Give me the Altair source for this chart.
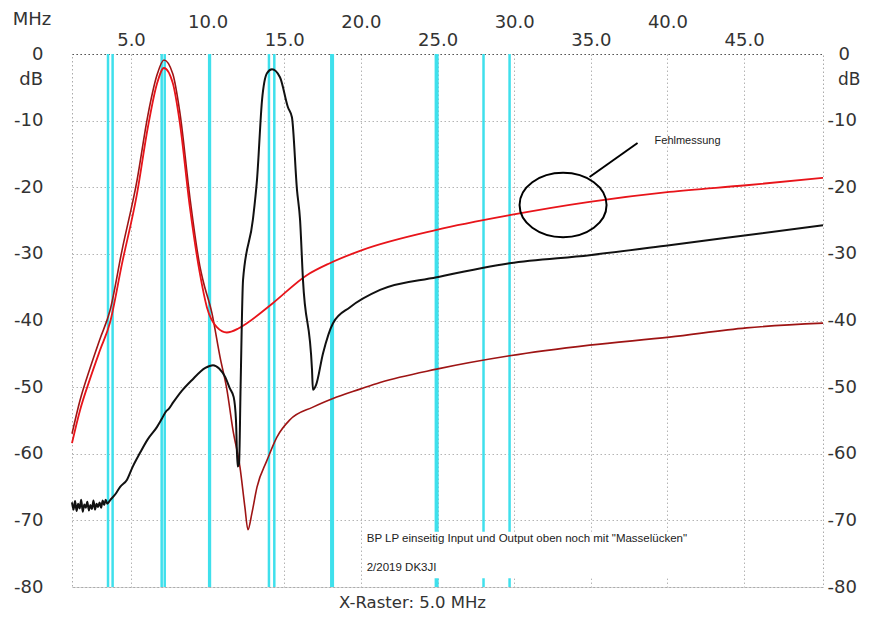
import altair as alt
import pandas as pd

# ---------------- data ----------------
# bright red trace (MHz, dB)
red_f = [1.15, 1.67, 2.32, 2.97, 3.63, 4.41, 5.39, 6.10, 6.69, 7.15, 7.73, 8.19, 8.84, 9.49, 9.95,
         10.60, 11.25, 12.00, 12.56, 14.25, 16.47, 17.97, 20.12, 24.94, 29.70, 34.92, 40.13, 45.15, 50.15]
red_db = [-58.4, -53.5, -48.8, -44.5, -40.3, -31.5, -21.0, -11.0, -4.5, -2.1, -4.4, -10.4, -23.0, -32.9, -38.0,
          -41.0, -41.8, -41.2, -40.4, -37.4, -33.2, -31.4, -29.4, -26.4, -24.2, -22.2, -20.7, -19.7, -18.6]

# dark red trace
dred_f = [1.15, 1.67, 2.32, 2.97, 3.63, 4.41, 5.39, 6.10, 6.69, 7.15, 7.73, 8.19, 8.84, 9.49, 9.70,
          10.28, 10.81, 11.26, 11.65, 12.11, 12.43, 12.63, 12.89, 13.22, 13.87, 14.52, 15.37, 16.87,
          18.18, 19.94, 21.25, 24.94, 29.70, 34.92, 40.13, 45.15, 50.15]
dred_db = [-57.0, -52.0, -47.2, -42.8, -38.5, -29.5, -19.0, -9.2, -3.2, -0.9, -3.0, -8.8, -21.5, -31.8, -34.0,
           -38.9, -45.5, -50.4, -56.4, -62.0, -68.0, -71.4, -68.9, -65.0, -61.0, -57.5, -54.9, -53.0,
           -51.7, -50.3, -49.3, -47.3, -45.3, -43.7, -42.5, -41.1, -40.4]

# black trace
black_f = [1.15, 1.25, 1.35, 1.45, 1.55, 1.65, 1.75, 1.85, 1.95, 2.05, 2.15, 2.25, 2.35, 2.45, 2.55, 2.65,
           2.75, 2.85, 2.95, 3.05, 3.15, 3.25, 3.35, 3.45,
           3.63, 4.00, 4.28, 4.74, 5.10, 5.58, 6.10, 6.69, 7.00, 7.30, 7.45, 7.75, 8.30, 8.95, 9.85,
           10.35, 10.75, 11.15, 11.45, 11.70, 11.85, 11.95, 12.05, 12.15, 12.31, 12.95, 13.22, 13.55,
           13.87, 14.20, 14.72, 15.24, 15.50, 15.83, 16.03, 16.22, 16.81, 16.87, 17.07, 17.53, 18.18,
           19.29, 21.25, 24.94, 29.70, 34.92, 40.13, 45.15, 50.15]
black_db = [-67.3, -68.4, -67.1, -68.6, -67.5, -68.2, -66.9, -68.7, -67.6, -68.1, -67.2, -68.5, -67.7, -68.3,
            -67.0, -68.4, -67.5, -68.0, -67.3, -68.1, -67.0, -67.7, -66.9, -67.5,
            -67.0, -66.0, -65.0, -63.9, -62.0, -59.9, -57.8, -56.0, -54.8, -53.6, -53.3, -52.3, -50.6,
            -49.0, -47.1, -46.7, -47.2, -48.5, -50.2, -51.5, -55.0, -61.9, -61.5, -50.0, -33.9, -24.9,
            -18.9, -6.9, -2.9, -2.3, -3.5, -8.0, -9.5, -20.4, -24.9, -33.9, -47.4, -50.4, -49.7, -44.9,
            -40.4, -38.0, -35.4, -33.5, -31.4, -30.2, -28.7, -27.2, -25.7]

# cyan amateur band edge markers (MHz)
band_edges = [3.5, 3.8, 7.0, 7.2, 10.1, 10.15, 14.0, 14.35, 18.068, 18.168, 24.89, 24.99, 28.0, 29.7]

x_ticks = [5, 10, 15, 20, 25, 30, 35, 40, 45]
y_ticks = [0, -10, -20, -30, -40, -50, -60, -70, -80]
x_domain = [1.15, 50.15]
y_domain = [-80, 0]

series_names = ["dunkelrot", "rot", "schwarz"]
series_colors = ["#9e1414", "#e8141a", "#111111"]

# annotations (data coordinates)
note_text = ['BP LP einseitig Input und Output oben noch mit "Masselücken"', "2/2019 DK3JI"]
note_f = [20.38, 20.38]
note_db = [-72.8, -77.15]
note_box_f = [20.25, 43.2]
note_box_db = [-71.7, -78.7]
ellipse_f = [33.19]
ellipse_db = [-22.66]
pointer_f = [34.92, 38.05]
pointer_db = [-18.46, -13.36]
fehl_f = [39.16]
fehl_db = [-13.06]

# ---------------- tables ----------------
curves = pd.concat([
    pd.DataFrame({"f": dred_f, "db": dred_db, "s": series_names[0], "o": 0}),
    pd.DataFrame({"f": red_f, "db": red_db, "s": series_names[1], "o": 1}),
    pd.DataFrame({"f": black_f, "db": black_db, "s": series_names[2], "o": 2}),
])
cyan_df = pd.DataFrame({"f": band_edges})
box_df = pd.DataFrame({"f": [note_box_f[0]], "f2": [note_box_f[1]],
                       "db": [note_box_db[0]], "db2": [note_box_db[1]]})
notes_df = pd.DataFrame({"f": note_f, "db": note_db, "t": note_text})
ell_df = pd.DataFrame({"f": ellipse_f, "db": ellipse_db})
ptr_df = pd.DataFrame({"f": [pointer_f[0]], "f2": [pointer_f[1]],
                       "db": [pointer_db[0]], "db2": [pointer_db[1]]})
fehl_df = pd.DataFrame({"f": fehl_f, "db": fehl_db, "t": ["Fehlmessung"]})
db_df = pd.DataFrame({"db": [-3.9], "t": ["dB"]})
mhz_df = pd.DataFrame({"t": ["MHz"]})

xs = alt.Scale(domain=x_domain, nice=False, zero=False)
ys = alt.Scale(domain=y_domain, nice=False, zero=False)

FONT = "DejaVu Sans"
LBL = "#333333"
GRID = "#b4b4b4"

top_axis = alt.Axis(orient="top", values=x_ticks, format=".1f", title=None, domain=False,
                    ticks=False, tickSize=0, labelFont=FONT, labelFontSize=18, labelColor=LBL,
                    labelBaseline="alphabetic",
                    labelPadding={"condition": {"test": "datum.value % 10 === 0", "value": 27}, "value": 9},
                    grid=True, gridColor=GRID, gridDash=[1.5, 2.5], gridWidth=1)

bottom_axis = alt.Axis(orient="bottom", labels=False, ticks=False, domain=False, grid=False,
                       title="X-Raster: 5.0 MHz", titleFont=FONT, titleFontSize=16.5,
                       titleFontWeight="normal", titleColor=LBL, titleX=340, titleY=15,
                       titleAlign="center", titleBaseline="middle")

left_axis = alt.Axis(orient="left", values=y_ticks, labelExpr="'' + datum.value", title=None,
                     domain=False, ticks=False, tickSize=0, labelFont=FONT, labelFontSize=18,
                     labelColor=LBL, labelAlign="right", labelBaseline="middle", labelPadding=29,
                     grid=True,
                     gridColor={"condition": {"test": "datum.value === 0", "value": "#555555"}, "value": GRID},
                     gridDash=[1.5, 2.5], gridWidth=1)

right_axis = alt.Axis(orient="right", values=y_ticks, labelExpr="'' + datum.value", title=None,
                      domain=False, ticks=False, tickSize=0, labelFont=FONT, labelFontSize=18,
                      labelColor=LBL, labelAlign="left", labelBaseline="middle",
                      labelPadding={"condition": {"test": "datum.value === 0", "value": 15}, "value": 4},
                      grid=False)

cyan = alt.Chart(cyan_df).mark_rule(color="#3fe0ec", strokeWidth=2.5).encode(
    x=alt.X("f:Q", scale=xs, axis=top_axis)
)

box = alt.Chart(box_df).mark_rect(color="white").encode(
    x=alt.X("f:Q", scale=xs, axis=bottom_axis), x2="f2:Q",
    y=alt.Y("db:Q", scale=ys, axis=None), y2="db2:Q"
)

notes = alt.Chart(notes_df).mark_text(align="left", baseline="middle", font="Liberation Sans",
                                      fontSize=11.5, color="#222222").encode(
    x=alt.X("f:Q", scale=xs, axis=None), y=alt.Y("db:Q", scale=ys, axis=None), text="t:N"
)

lines = alt.Chart(curves).mark_line(strokeJoin="round", interpolate="monotone").encode(
    x=alt.X("f:Q", scale=xs, axis=None),
    y=alt.Y("db:Q", scale=ys, axis=left_axis),
    color=alt.Color("s:N", scale=alt.Scale(domain=series_names, range=series_colors), legend=None),
    strokeWidth=alt.StrokeWidth("s:N", scale=alt.Scale(domain=series_names, range=[1.6, 2.0, 1.6]),
                                legend=None),
    order="o:Q",
)

ellipse = alt.Chart(ell_df).mark_point(
    shape="M-1,0A1,0.74,0,1,1,1,0A1,0.74,0,1,1,-1,0Z", size=7569, filled=False,
    stroke="black", strokeWidth=2, opacity=1
).encode(x=alt.X("f:Q", scale=xs, axis=None), y=alt.Y("db:Q", scale=ys, axis=None))

pointer = alt.Chart(ptr_df).mark_rule(color="black", strokeWidth=2).encode(
    x=alt.X("f:Q", scale=xs, axis=None), x2="f2:Q",
    y=alt.Y("db:Q", scale=ys, axis=None), y2="db2:Q"
)

fehl = alt.Chart(fehl_df).mark_text(align="left", baseline="middle", font="Liberation Sans",
                                    fontSize=11, color="#222222").encode(
    x=alt.X("f:Q", scale=xs, axis=None), y=alt.Y("db:Q", scale=ys, axis=None), text="t:N"
)

db_left = alt.Chart(db_df).mark_text(align="right", baseline="middle", font=FONT, fontSize=18,
                                     color=LBL).encode(
    x=alt.value(-29), y=alt.Y("db:Q", scale=ys, axis=None), text="t:N"
)

db_right = alt.Chart(db_df).mark_text(align="left", baseline="middle", font=FONT, fontSize=17,
                                      color=LBL).encode(
    x=alt.value(766), y=alt.Y("db:Q", scale=ys, axis=right_axis), text="t:N"
)

mhz = alt.Chart(mhz_df).mark_text(align="center", baseline="middle", font=FONT, fontSize=18,
                                  color=LBL).encode(
    x=alt.value(-40), y=alt.value(-34), text="t:N"
)

chart = alt.layer(cyan, box, notes, lines, ellipse, pointer, fehl, db_left, db_right, mhz).resolve_axis(
    x="independent", y="independent"
).properties(
    width=751, height=533,
    padding={"left": 64, "top": 46, "right": 40, "bottom": 25},
    autosize=alt.AutoSizeParams(type="none"),
    background="white",
).configure_view(stroke="#aaaaaa", strokeDash=[1.5, 2.5], strokeWidth=1)

chart.save("out.html", embed_options={"renderer": "svg", "actions": False})
